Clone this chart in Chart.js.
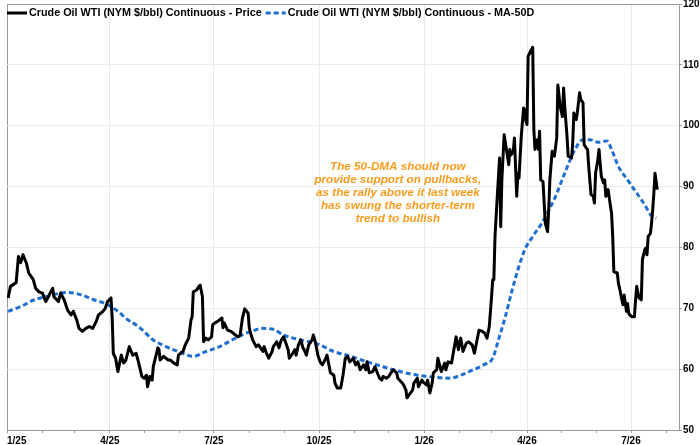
<!DOCTYPE html>
<html>
<head>
<meta charset="utf-8">
<script src="https://cdn.jsdelivr.net/npm/chart.js@4.4.1/dist/chart.umd.min.js"></script>
<style>
  html, body { margin: 0; padding: 0; background: #fff; }
  #wrap { width: 700px; height: 445px; }
</style>
</head>
<body>
<div id="wrap"><canvas id="myChart" width="700" height="445"></canvas></div>
<script>
// days counted from 2025-01-01
const priceDays = [1,3,8,10,12,14,17,19,23,25,28,31,34,37,40,41,45,47,50,53,56,58,61,63,66,69,72,75,78,80,84,86,88,91,92,93,95,97,100,102,
  104,107,108,110,113,115,118,120,122,123,125,127,128,132,133,134,137,141,143,146,149,150,154,156,159,161,162,163,166,168,169,171,172,174,176,179,180,182,184,186,188,189,190,193,196,198,202,204,206,208,211,212,
  213,215,218,220,224,225,227,229,232,233,236,238,240,242,244,246,247,250,252,253,255,257,259,260,262,264,267,268,270,272,274,276,279,280,283,286,287,289,292,294,296,298,300,303,305,307,309,312,314,315,317,320,322,324,326,328,329,332,334,336,338,341,342,345,347,349,350,352,355,356,359,360,363,364,367,368,370,372,373,376,377,380,
  383,384,386,389,391,393,395,397,399,402,404,407,409,411,413,416,418,420,422,424,425,426,427,429,431,432,433,435,437,439,440,441,443,444,446,447,448,450,452,453,454,455,456,458,460,461,462,464,465,466,467,469,
  471,473,474,475,477,479,481,482,484,486,487,488,490,491,494,495,496,498,499,501,502,504,505,507,508,509,511,513,514,515,517,518,520,522,523,524,526,527,529,530,531,534,535,536,538,539,540,542,543,544,545,547,549,550,551,553,555,556,558,559,560,561,563,564,565,566,567,569];
const priceValues = [71.7,73.6,74.2,78.5,77.5,78.8,77.4,75.8,74.7,73.3,72.7,72.5,71.1,72.2,73.3,71.9,71.1,72.5,71.4,69.7,68.9,69.5,68.1,66.7,66.2,66.7,67.0,66.7,67.8,68.9,69.5,70.0,71.1,71.7,68.6,62.6,61.8,59.6,62.3,61.0,
  61.5,63.7,63.2,62.3,62.6,61.2,58.8,58.5,59.0,57.1,58.8,58.2,60.4,63.5,63.2,61.5,62.1,61.5,61.5,61.0,60.7,62.3,62.9,64.0,65.1,68.1,68.6,72.7,73.0,73.6,73.8,71.9,64.5,65.1,64.8,65.3,67.3,67.6,67.8,68.1,68.4,66.8,67.6,66.4,66.2,65.9,65.3,65.6,68.4,69.9,69.2,66.8,
  66.0,64.8,63.7,64.0,62.9,63.7,62.6,61.8,62.9,63.7,64.5,63.5,64.8,65.3,64.3,63.2,61.8,62.6,63.2,62.3,64.0,64.8,63.5,63.2,62.3,64.0,64.8,65.6,64.3,62.3,61.2,60.7,61.8,62.3,59.4,59.0,57.7,56.9,56.9,59.0,61.8,62.1,61.2,61.8,60.7,61.2,59.9,60.7,59.9,61.2,59.4,59.6,60.4,59.4,58.5,58.2,58.8,58.5,58.8,59.4,59.9,59.4,58.5,57.9,57.4,56.6,55.3,55.8,56.6,57.7,58.5,57.1,58.2,57.9,57.4,58.2,56.1,57.7,59.4,59.9,61.8,59.6,
  61.0,59.9,61.2,61.0,63.2,65.3,63.2,65.1,62.9,64.3,64.5,64.0,62.6,64.5,66.4,66.2,65.9,65.1,67.0,71.9,74.7,74.7,81.8,88.4,94.7,83.4,91.1,98.5,96.1,93.6,96.1,95.2,95.8,98.0,88.4,92.2,91.4,98.3,102.9,102.6,100.7,100.2,111.4,112.2,112.9,99.3,96.1,97.7,96.1,99.1,91.1,90.8,
  84.0,82.6,86.2,91.1,95.8,95.0,98.0,106.7,103.2,101.5,106.2,103.2,98.3,95.0,94.7,97.1,102.1,101.0,102.1,105.4,104.3,103.8,96.9,96.3,96.1,93.3,88.7,88.4,87.3,92.2,94.4,96.1,91.7,90.6,91.1,88.4,89.5,88.1,85.6,81.8,76.0,75.8,74.1,73.3,71.4,70.6,72.2,69.5,70.8,69.2,68.9,68.6,68.6,71.4,73.6,71.7,71.4,78.0,79.6,79.9,78.8,81.8,82.3,84.0,86.2,88.9,92.2,89.5];

const maDays = [1,12,24,36,47,54,65,76,88,97,105,115,128,139,150,163,174,185,197,209,217,222,232,242,257,272,286,301,315,329,344,359,373,388,397,408,417,425,430,436,442,447,453,460,467,471,480,488,497,504,510,517,525,529,535,543,550,557,564,568];
const maValues = [69.5,70.3,71.4,72.0,72.5,72.6,72.2,71.4,70.6,69.5,68.2,67.0,64.8,63.7,62.9,62.1,62.9,63.6,64.8,65.9,66.4,66.7,66.6,65.6,64.8,64.1,62.9,62.1,61.2,60.4,59.6,59.0,58.7,58.5,59.0,59.9,60.7,61.8,64.8,68.6,73.0,76.3,79.6,81.8,83.7,85.0,88.4,92.2,96.1,97.7,97.7,97.3,97.5,96.1,93.3,91.1,89.2,87.3,85.2,84.8];

const tickDates = ['2025-01-01','2025-02-01','2025-03-01','2025-04-01','2025-05-01','2025-06-01','2025-07-01','2025-08-01','2025-09-01','2025-10-01','2025-11-01','2025-12-01',
  '2026-01-01','2026-02-01','2026-03-01','2026-04-01','2026-05-01','2026-06-01','2026-07-01','2026-08-01'];
const tickLabels = ['1/25','','','4/25','','','7/25','','','10/25','','','1/26','','','4/26','','','7/26',''];
const yTicks = [50,60,70,80,90,100,110,120];

const noteLines = ['The 50-DMA should now', 'provide support on pullbacks,', 'as the rally above it last week', 'has swung the shorter-term', 'trend to bullish'];

const t0 = Date.UTC(2025, 0, 1);
const tickDays = tickDates.map(d => (Date.parse(d + 'T00:00:00Z') - t0) / 86400000);

const FONT = "'Liberation Sans', Arial, sans-serif";

const legendPlugin = {
  id: 'topLegend',
  afterDatasetsDraw(chart) {
    const ctx = chart.ctx;
    const area = chart.chartArea;
    let x = area.left;
    const y = area.top + 9;
    ctx.save();
    ctx.font = 'bold 10.8px ' + FONT;
    ctx.textBaseline = 'middle';
    chart.data.datasets.forEach(ds => {
      ctx.beginPath();
      ctx.strokeStyle = ds.borderColor;
      ctx.lineWidth = ds.borderWidth;
      ctx.setLineDash(ds.borderDash || []);
      ctx.moveTo(x, y);
      ctx.lineTo(x + 20, y);
      ctx.stroke();
      ctx.setLineDash([]);
      ctx.fillStyle = '#000';
      ctx.fillText(ds.label, x + 22, y);
      x += 22 + ctx.measureText(ds.label).width + 4;
    });
    ctx.restore();
  }
};

const notePlugin = {
  id: 'note',
  afterDatasetsDraw(chart) {
    const ctx = chart.ctx;
    const xs = chart.scales.x, ys = chart.scales.y;
    const cx = xs.getPixelForValue(342);
    let cy = ys.getPixelForValue(93.3);
    ctx.save();
    ctx.font = "italic bold 11.7px " + FONT;
    ctx.fillStyle = '#f99b1c';
    ctx.textAlign = 'center';
    ctx.textBaseline = 'middle';
    noteLines.forEach(line => {
      ctx.fillText(line, cx, cy);
      cy += 13;
    });
    ctx.restore();
  }
};

const config = {
  type: 'line',
  data: {
    datasets: [{
      label: 'Crude Oil WTI (NYM $/bbl) Continuous - Price',
      data: priceDays.map((d, i) => ({x: d, y: priceValues[i]})),
      borderColor: '#000',
      borderWidth: 3,
      pointRadius: 0,
      tension: 0,
      borderJoinStyle: 'round',
      fill: false
    }, {
      label: 'Crude Oil WTI (NYM $/bbl) Continuous - MA-50D',
      data: maDays.map((d, i) => ({x: d, y: maValues[i]})),
      borderColor: '#1f6fd1',
      borderWidth: 3,
      borderDash: [5, 3],
      pointRadius: 0,
      cubicInterpolationMode: 'monotone',
      fill: false
    }]
  },
  options: {
    responsive: false,
    animation: false,
    layout: { padding: { left: 7, top: 4, right: 0, bottom: 0 } },
    plugins: {
      legend: { display: false },
      tooltip: { enabled: false }
    },
    scales: {
      x: {
        type: 'linear',
        min: 0,
        max: 588,
        afterBuildTicks: scale => { scale.ticks = tickDays.map(v => ({value: v})); },
        afterFit: scale => { scale.height = 15; scale.paddingLeft = 0; scale.paddingRight = 0; },
        ticks: {
          autoSkip: false,
          maxRotation: 0,
          align: 'inner',
          padding: 2,
          color: '#000',
          font: { family: FONT, size: 10, weight: 'bold' },
          callback: (v, i) => tickLabels[i]
        },
        grid: {
          color: c => c.index === 0 ? '#999' : (tickLabels[c.index] ? '#e8e8e8' : 'rgba(0,0,0,0)'),
          tickColor: '#999',
          tickLength: 3
        },
        border: { color: '#999' }
      },
      y: {
        position: 'right',
        min: 50,
        max: 120,
        afterBuildTicks: scale => { scale.ticks = yTicks.map(v => ({value: v})); },
        afterFit: scale => { scale.width = 21; scale.paddingTop = 0; scale.paddingBottom = 0; },
        ticks: {
          padding: 1,
          color: '#000',
          font: { family: FONT, size: 10, weight: 'bold' }
        },
        grid: {
          color: c => c.tick && c.tick.value === 120 ? '#999' : '#ececec',
          tickColor: '#999',
          tickLength: 3
        },
        border: { color: '#999' }
      }
    }
  },
  plugins: [legendPlugin, notePlugin]
};

window.onload = () => {
  new Chart(document.getElementById('myChart'), config);
};
</script>
</body>
</html>
